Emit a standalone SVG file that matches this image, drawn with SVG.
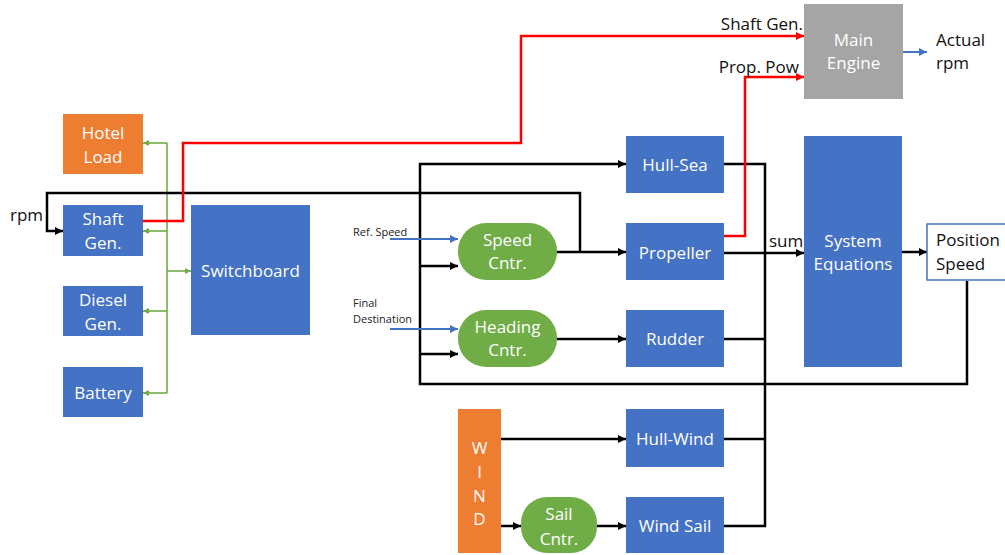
<svg xmlns="http://www.w3.org/2000/svg" width="1005" height="555" viewBox="0 0 1005 555">
<style>
text{font-family:"Open Sans","Liberation Sans",sans-serif;}
.nt{fill:#fff;font-size:17px;text-anchor:middle;}
.lb{fill:#111;font-size:17px;}
.sm{fill:#222;font-size:11px;}
.blue{fill:#4472C4;}
.orange{fill:#ED7D31;}
.green{fill:#70AD47;}
.gray{fill:#A5A5A5;}
.k{fill:none;stroke:#000;stroke-width:2.5;}
.g{fill:none;stroke:#70AD47;stroke-width:1.6;}
.r{fill:none;stroke:#FF0000;stroke-width:2.5;}
.b{fill:none;stroke:#4472C4;stroke-width:2;}
</style>
<defs>
<marker id="ak" markerUnits="userSpaceOnUse" markerWidth="10" markerHeight="10" refX="9" refY="5" orient="auto"><path d="M1,1 L9,5 L1,9 Z" fill="#000"/></marker>
<marker id="ag" markerUnits="userSpaceOnUse" markerWidth="8" markerHeight="8" refX="7" refY="4" orient="auto"><path d="M1,1 L7,4 L1,7 Z" fill="#70AD47"/></marker>
<marker id="ar" markerUnits="userSpaceOnUse" markerWidth="10" markerHeight="10" refX="9" refY="5" orient="auto"><path d="M1,1 L9,5 L1,9 Z" fill="#FF0000"/></marker>
<marker id="ab" markerUnits="userSpaceOnUse" markerWidth="10" markerHeight="10" refX="9" refY="5" orient="auto"><path d="M1,1 L9,5 L1,9 Z" fill="#4472C4"/></marker>
</defs>
<rect width="1005" height="555" fill="#fff"/>

<g id="connectors">
<path class="g" d="M167,143 V393"/>
<path class="g" d="M167,143 H143" marker-end="url(#ag)"/>
<path class="g" d="M167,231 H143" marker-end="url(#ag)"/>
<path class="g" d="M167,271 H191" marker-end="url(#ag)"/>
<path class="g" d="M167,311 H143" marker-end="url(#ag)"/>
<path class="g" d="M167,393 H143" marker-end="url(#ag)"/>

<path class="k" d="M580,252 V193 H47 V231 H63" marker-end="url(#ak)"/>
<path class="k" d="M557,252 H626" marker-end="url(#ak)"/>
<path class="k" d="M967,281 V384 H420 V164 H626" marker-end="url(#ak)"/>
<path class="k" d="M420,266 H458" marker-end="url(#ak)"/>
<path class="k" d="M420,354 H458" marker-end="url(#ak)"/>
<path class="k" d="M557,339 H626" marker-end="url(#ak)"/>
<path class="k" d="M724,164 H765 V526 H724"/>
<path class="k" d="M724,339 H765"/>
<path class="k" d="M724,439 H765"/>
<path class="k" d="M724,253 H804" marker-end="url(#ak)"/>
<path class="k" d="M902,252 H927" marker-end="url(#ak)"/>
<path class="k" d="M501,439 H626" marker-end="url(#ak)"/>
<path class="k" d="M501,526 H521" marker-end="url(#ak)"/>
<path class="k" d="M597,526 H626" marker-end="url(#ak)"/>

<path class="r" d="M143,221 H183 V143 H521 V36 H804" marker-end="url(#ar)"/>
<path class="r" d="M724,236 H745 V77 H804" marker-end="url(#ar)"/>

<path class="b" d="M390,239 H458" marker-end="url(#ab)"/>
<path class="b" d="M390,329 H458" marker-end="url(#ab)"/>
<path class="b" d="M903,52 H927" marker-end="url(#ab)"/>

<text class="lb" x="10" y="221">rpm</text>
<text class="lb" x="803" y="30" text-anchor="end">Shaft Gen.</text>
<text class="lb" x="799" y="73" text-anchor="end">Prop. Pow</text>
<text class="lb" x="936" y="46">Actual</text>
<text class="lb" x="936" y="69">rpm</text>
<text class="lb" x="769" y="247">sum</text>
<text class="sm" x="353" y="236">Ref. Speed</text>
<text class="sm" x="353" y="307">Final</text>
<text class="sm" x="353" y="323">Destination</text>
</g>

<g id="hotel-load"><rect class="orange" x="63" y="114" width="80" height="60"/><text class="nt" x="103" y="139">Hotel</text><text class="nt" x="103" y="163">Load</text></g>
<g id="shaft-gen"><rect class="blue" x="63" y="205" width="80" height="51"/><text class="nt" x="103" y="225">Shaft</text><text class="nt" x="103" y="249">Gen.</text></g>
<g id="diesel-gen"><rect class="blue" x="63" y="286" width="80" height="50"/><text class="nt" x="103" y="306">Diesel</text><text class="nt" x="103" y="330">Gen.</text></g>
<g id="battery"><rect class="blue" x="63" y="367" width="80" height="50"/><text class="nt" x="103" y="399">Battery</text></g>
<g id="switchboard"><rect class="blue" x="191" y="205" width="119" height="130"/><text class="nt" x="250.5" y="277">Switchboard</text></g>

<g id="main-engine"><rect class="gray" x="804" y="4" width="99" height="95"/><text class="nt" x="853.5" y="46" fill="#F2F2F2">Main</text><text class="nt" x="853.5" y="69" fill="#F2F2F2">Engine</text></g>

<g id="hull-sea"><rect class="blue" x="626" y="136" width="98" height="57"/><text class="nt" x="675" y="171">Hull-Sea</text></g>
<g id="propeller"><rect class="blue" x="626" y="223" width="98" height="57"/><text class="nt" x="675" y="259">Propeller</text></g>
<g id="rudder"><rect class="blue" x="626" y="310" width="98" height="57"/><text class="nt" x="675" y="345">Rudder</text></g>

<g id="speed-cntr"><rect class="green" x="458" y="223" width="99" height="57" rx="28" ry="28"/><text class="nt" x="507.5" y="246">Speed</text><text class="nt" x="507.5" y="269">Cntr.</text></g>
<g id="heading-cntr"><rect class="green" x="458" y="310" width="99" height="57" rx="28" ry="28"/><text class="nt" x="507.5" y="333">Heading</text><text class="nt" x="507.5" y="356">Cntr.</text></g>

<g id="system-equations"><rect class="blue" x="804" y="136" width="98" height="231"/><text class="nt" x="853" y="247">System</text><text class="nt" x="853" y="270">Equations</text></g>
<g id="position-speed"><rect x="927" y="224" width="80" height="56" fill="#fff" stroke="#4472C4" stroke-width="1.5"/><text class="lb" x="936" y="246">Position</text><text class="lb" x="936" y="270">Speed</text></g>

<g id="wind"><rect class="orange" x="458" y="409" width="43" height="144"/>
<text class="nt" x="479.5" y="454">W</text><text class="nt" x="479.5" y="478">I</text><text class="nt" x="479.5" y="502">N</text><text class="nt" x="479.5" y="525">D</text></g>
<g id="hull-wind"><rect class="blue" x="626" y="409" width="98" height="58"/><text class="nt" x="675" y="445">Hull-Wind</text></g>
<g id="sail-cntr"><rect class="green" x="521" y="497" width="76" height="56" rx="26" ry="26"/><text class="nt" x="559" y="520">Sail</text><text class="nt" x="559" y="545">Cntr.</text></g>
<g id="wind-sail"><rect class="blue" x="626" y="497" width="98" height="56"/><text class="nt" x="675" y="532">Wind Sail</text></g>
</svg>
